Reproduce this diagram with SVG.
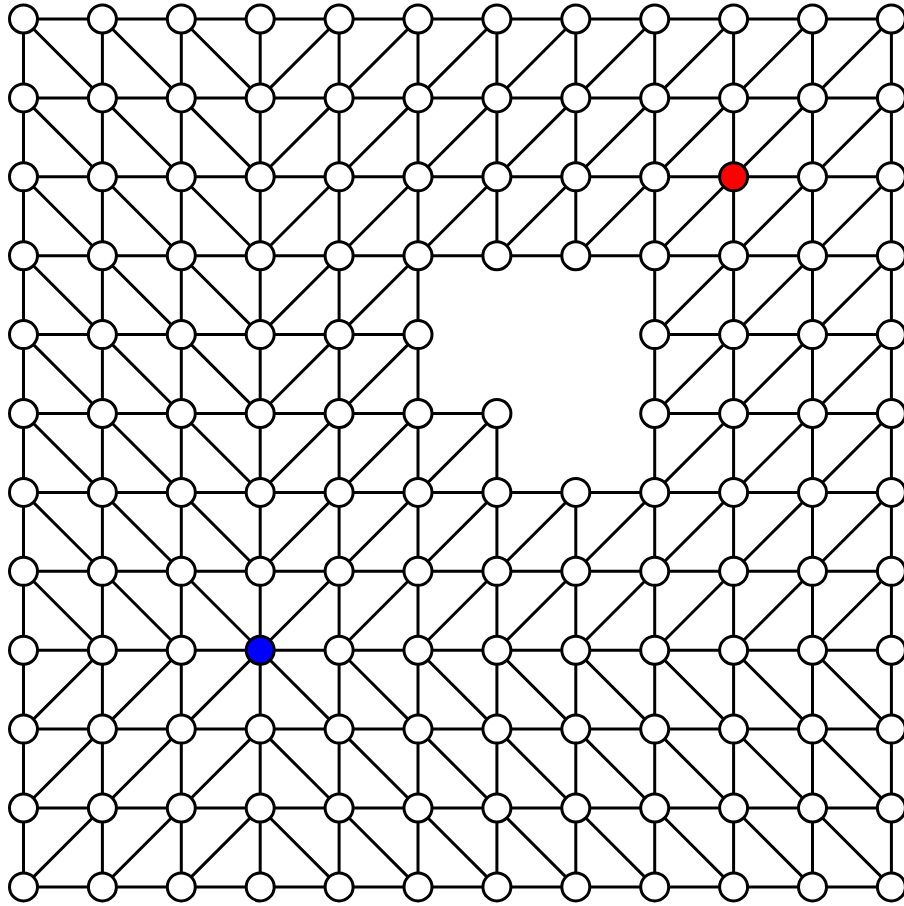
<svg xmlns="http://www.w3.org/2000/svg" width="904" height="906" viewBox="0 0 904 906">
<style>
.e{fill:none;stroke:#000;stroke-width:3;stroke-linecap:butt}
.n{fill:#fff;stroke:#000;stroke-width:3}
.red{fill:#ff0000}
.blue{fill:#0000ff}
</style>
<rect width="904" height="906" fill="#fff"/>
<g id="connectors">
<path class="e" d="M23.5 19H891.4 M23.5 97.9H891.4 M23.5 176.8H891.4 M23.5 255.7H891.4 M23.5 334.6H418 M654.7 334.6H891.4 M23.5 413.5H496.9 M654.7 413.5H891.4 M23.5 492.4H891.4 M23.5 571.3H891.4 M23.5 650.2H891.4 M23.5 729.1H891.4 M23.5 808H891.4 M23.5 886.9H891.4"/>
<path class="e" d="M23.5 19V886.9 M102.4 19V886.9 M181.3 19V886.9 M260.2 19V886.9 M339.1 19V886.9 M418 19V886.9 M496.9 19V255.7 M496.9 413.5V886.9 M575.8 19V255.7 M575.8 492.4V886.9 M654.7 19V886.9 M733.6 19V886.9 M812.5 19V886.9 M891.4 19V886.9"/>
<path class="e" d="
M23.5 19l78.9 78.9 M102.4 19l78.9 78.9 M181.3 19l78.9 78.9
M23.5 97.9l78.9 78.9 M102.4 97.9l78.9 78.9 M181.3 97.9l78.9 78.9
M23.5 176.8l78.9 78.9 M102.4 176.8l78.9 78.9 M181.3 176.8l78.9 78.9
M23.5 255.7l78.9 78.9 M102.4 255.7l78.9 78.9 M181.3 255.7l78.9 78.9
M23.5 334.6l78.9 78.9 M102.4 334.6l78.9 78.9 M181.3 334.6l78.9 78.9
M23.5 413.5l78.9 78.9 M102.4 413.5l78.9 78.9 M181.3 413.5l78.9 78.9
M23.5 492.4l78.9 78.9 M102.4 492.4l78.9 78.9 M181.3 492.4l78.9 78.9
M23.5 571.3l78.9 78.9 M102.4 571.3l78.9 78.9 M181.3 571.3l78.9 78.9"/>
<path class="e" d="
M339.1 19l-78.9 78.9 M418 19l-78.9 78.9 M496.9 19l-78.9 78.9 M575.8 19l-78.9 78.9 M654.7 19l-78.9 78.9 M733.6 19l-78.9 78.9 M812.5 19l-78.9 78.9 M891.4 19l-78.9 78.9
M339.1 97.9l-78.9 78.9 M418 97.9l-78.9 78.9 M496.9 97.9l-78.9 78.9 M575.8 97.9l-78.9 78.9 M654.7 97.9l-78.9 78.9 M733.6 97.9l-78.9 78.9 M812.5 97.9l-78.9 78.9 M891.4 97.9l-78.9 78.9
M339.1 176.8l-78.9 78.9 M418 176.8l-78.9 78.9 M496.9 176.8l-78.9 78.9 M575.8 176.8l-78.9 78.9 M654.7 176.8l-78.9 78.9 M733.6 176.8l-78.9 78.9 M812.5 176.8l-78.9 78.9 M891.4 176.8l-78.9 78.9
M339.1 255.7l-78.9 78.9 M418 255.7l-78.9 78.9 M733.6 255.7l-78.9 78.9 M812.5 255.7l-78.9 78.9 M891.4 255.7l-78.9 78.9
M339.1 334.6l-78.9 78.9 M418 334.6l-78.9 78.9 M733.6 334.6l-78.9 78.9 M812.5 334.6l-78.9 78.9 M891.4 334.6l-78.9 78.9
M339.1 413.5l-78.9 78.9 M418 413.5l-78.9 78.9 M496.9 413.5l-78.9 78.9 M733.6 413.5l-78.9 78.9 M812.5 413.5l-78.9 78.9 M891.4 413.5l-78.9 78.9
M339.1 492.4l-78.9 78.9 M418 492.4l-78.9 78.9 M496.9 492.4l-78.9 78.9 M575.8 492.4l-78.9 78.9 M654.7 492.4l-78.9 78.9 M733.6 492.4l-78.9 78.9 M812.5 492.4l-78.9 78.9 M891.4 492.4l-78.9 78.9
M339.1 571.3l-78.9 78.9 M418 571.3l-78.9 78.9 M496.9 571.3l-78.9 78.9 M575.8 571.3l-78.9 78.9 M654.7 571.3l-78.9 78.9 M733.6 571.3l-78.9 78.9 M812.5 571.3l-78.9 78.9 M891.4 571.3l-78.9 78.9"/>
<path class="e" d="
M102.4 650.2l-78.9 78.9 M181.3 650.2l-78.9 78.9 M260.2 650.2l-78.9 78.9
M102.4 729.1l-78.9 78.9 M181.3 729.1l-78.9 78.9 M260.2 729.1l-78.9 78.9
M102.4 808l-78.9 78.9 M181.3 808l-78.9 78.9 M260.2 808l-78.9 78.9"/>
<path class="e" d="
M260.2 650.2l78.9 78.9 M339.1 650.2l78.9 78.9 M418 650.2l78.9 78.9 M496.9 650.2l78.9 78.9 M575.8 650.2l78.9 78.9 M654.7 650.2l78.9 78.9 M733.6 650.2l78.9 78.9 M812.5 650.2l78.9 78.9
M260.2 729.1l78.9 78.9 M339.1 729.1l78.9 78.9 M418 729.1l78.9 78.9 M496.9 729.1l78.9 78.9 M575.8 729.1l78.9 78.9 M654.7 729.1l78.9 78.9 M733.6 729.1l78.9 78.9 M812.5 729.1l78.9 78.9
M260.2 808l78.9 78.9 M339.1 808l78.9 78.9 M418 808l78.9 78.9 M496.9 808l78.9 78.9 M575.8 808l78.9 78.9 M654.7 808l78.9 78.9 M733.6 808l78.9 78.9 M812.5 808l78.9 78.9"/>
</g>
<g id="nodes">
<g id="n0_0"><circle class="n" cx="23.5" cy="19" r="14"/></g>
<g id="n1_0"><circle class="n" cx="102.4" cy="19" r="14"/></g>
<g id="n2_0"><circle class="n" cx="181.3" cy="19" r="14"/></g>
<g id="n3_0"><circle class="n" cx="260.2" cy="19" r="14"/></g>
<g id="n4_0"><circle class="n" cx="339.1" cy="19" r="14"/></g>
<g id="n5_0"><circle class="n" cx="418" cy="19" r="14"/></g>
<g id="n6_0"><circle class="n" cx="496.9" cy="19" r="14"/></g>
<g id="n7_0"><circle class="n" cx="575.8" cy="19" r="14"/></g>
<g id="n8_0"><circle class="n" cx="654.7" cy="19" r="14"/></g>
<g id="n9_0"><circle class="n" cx="733.6" cy="19" r="14"/></g>
<g id="n10_0"><circle class="n" cx="812.5" cy="19" r="14"/></g>
<g id="n11_0"><circle class="n" cx="891.4" cy="19" r="14"/></g>
<g id="n0_1"><circle class="n" cx="23.5" cy="97.9" r="14"/></g>
<g id="n1_1"><circle class="n" cx="102.4" cy="97.9" r="14"/></g>
<g id="n2_1"><circle class="n" cx="181.3" cy="97.9" r="14"/></g>
<g id="n3_1"><circle class="n" cx="260.2" cy="97.9" r="14"/></g>
<g id="n4_1"><circle class="n" cx="339.1" cy="97.9" r="14"/></g>
<g id="n5_1"><circle class="n" cx="418" cy="97.9" r="14"/></g>
<g id="n6_1"><circle class="n" cx="496.9" cy="97.9" r="14"/></g>
<g id="n7_1"><circle class="n" cx="575.8" cy="97.9" r="14"/></g>
<g id="n8_1"><circle class="n" cx="654.7" cy="97.9" r="14"/></g>
<g id="n9_1"><circle class="n" cx="733.6" cy="97.9" r="14"/></g>
<g id="n10_1"><circle class="n" cx="812.5" cy="97.9" r="14"/></g>
<g id="n11_1"><circle class="n" cx="891.4" cy="97.9" r="14"/></g>
<g id="n0_2"><circle class="n" cx="23.5" cy="176.8" r="14"/></g>
<g id="n1_2"><circle class="n" cx="102.4" cy="176.8" r="14"/></g>
<g id="n2_2"><circle class="n" cx="181.3" cy="176.8" r="14"/></g>
<g id="n3_2"><circle class="n" cx="260.2" cy="176.8" r="14"/></g>
<g id="n4_2"><circle class="n" cx="339.1" cy="176.8" r="14"/></g>
<g id="n5_2"><circle class="n" cx="418" cy="176.8" r="14"/></g>
<g id="n6_2"><circle class="n" cx="496.9" cy="176.8" r="14"/></g>
<g id="n7_2"><circle class="n" cx="575.8" cy="176.8" r="14"/></g>
<g id="n8_2"><circle class="n" cx="654.7" cy="176.8" r="14"/></g>
<g id="n9_2"><circle class="n red" cx="733.6" cy="176.8" r="14"/></g>
<g id="n10_2"><circle class="n" cx="812.5" cy="176.8" r="14"/></g>
<g id="n11_2"><circle class="n" cx="891.4" cy="176.8" r="14"/></g>
<g id="n0_3"><circle class="n" cx="23.5" cy="255.7" r="14"/></g>
<g id="n1_3"><circle class="n" cx="102.4" cy="255.7" r="14"/></g>
<g id="n2_3"><circle class="n" cx="181.3" cy="255.7" r="14"/></g>
<g id="n3_3"><circle class="n" cx="260.2" cy="255.7" r="14"/></g>
<g id="n4_3"><circle class="n" cx="339.1" cy="255.7" r="14"/></g>
<g id="n5_3"><circle class="n" cx="418" cy="255.7" r="14"/></g>
<g id="n6_3"><circle class="n" cx="496.9" cy="255.7" r="14"/></g>
<g id="n7_3"><circle class="n" cx="575.8" cy="255.7" r="14"/></g>
<g id="n8_3"><circle class="n" cx="654.7" cy="255.7" r="14"/></g>
<g id="n9_3"><circle class="n" cx="733.6" cy="255.7" r="14"/></g>
<g id="n10_3"><circle class="n" cx="812.5" cy="255.7" r="14"/></g>
<g id="n11_3"><circle class="n" cx="891.4" cy="255.7" r="14"/></g>
<g id="n0_4"><circle class="n" cx="23.5" cy="334.6" r="14"/></g>
<g id="n1_4"><circle class="n" cx="102.4" cy="334.6" r="14"/></g>
<g id="n2_4"><circle class="n" cx="181.3" cy="334.6" r="14"/></g>
<g id="n3_4"><circle class="n" cx="260.2" cy="334.6" r="14"/></g>
<g id="n4_4"><circle class="n" cx="339.1" cy="334.6" r="14"/></g>
<g id="n5_4"><circle class="n" cx="418" cy="334.6" r="14"/></g>
<g id="n8_4"><circle class="n" cx="654.7" cy="334.6" r="14"/></g>
<g id="n9_4"><circle class="n" cx="733.6" cy="334.6" r="14"/></g>
<g id="n10_4"><circle class="n" cx="812.5" cy="334.6" r="14"/></g>
<g id="n11_4"><circle class="n" cx="891.4" cy="334.6" r="14"/></g>
<g id="n0_5"><circle class="n" cx="23.5" cy="413.5" r="14"/></g>
<g id="n1_5"><circle class="n" cx="102.4" cy="413.5" r="14"/></g>
<g id="n2_5"><circle class="n" cx="181.3" cy="413.5" r="14"/></g>
<g id="n3_5"><circle class="n" cx="260.2" cy="413.5" r="14"/></g>
<g id="n4_5"><circle class="n" cx="339.1" cy="413.5" r="14"/></g>
<g id="n5_5"><circle class="n" cx="418" cy="413.5" r="14"/></g>
<g id="n6_5"><circle class="n" cx="496.9" cy="413.5" r="14"/></g>
<g id="n8_5"><circle class="n" cx="654.7" cy="413.5" r="14"/></g>
<g id="n9_5"><circle class="n" cx="733.6" cy="413.5" r="14"/></g>
<g id="n10_5"><circle class="n" cx="812.5" cy="413.5" r="14"/></g>
<g id="n11_5"><circle class="n" cx="891.4" cy="413.5" r="14"/></g>
<g id="n0_6"><circle class="n" cx="23.5" cy="492.4" r="14"/></g>
<g id="n1_6"><circle class="n" cx="102.4" cy="492.4" r="14"/></g>
<g id="n2_6"><circle class="n" cx="181.3" cy="492.4" r="14"/></g>
<g id="n3_6"><circle class="n" cx="260.2" cy="492.4" r="14"/></g>
<g id="n4_6"><circle class="n" cx="339.1" cy="492.4" r="14"/></g>
<g id="n5_6"><circle class="n" cx="418" cy="492.4" r="14"/></g>
<g id="n6_6"><circle class="n" cx="496.9" cy="492.4" r="14"/></g>
<g id="n7_6"><circle class="n" cx="575.8" cy="492.4" r="14"/></g>
<g id="n8_6"><circle class="n" cx="654.7" cy="492.4" r="14"/></g>
<g id="n9_6"><circle class="n" cx="733.6" cy="492.4" r="14"/></g>
<g id="n10_6"><circle class="n" cx="812.5" cy="492.4" r="14"/></g>
<g id="n11_6"><circle class="n" cx="891.4" cy="492.4" r="14"/></g>
<g id="n0_7"><circle class="n" cx="23.5" cy="571.3" r="14"/></g>
<g id="n1_7"><circle class="n" cx="102.4" cy="571.3" r="14"/></g>
<g id="n2_7"><circle class="n" cx="181.3" cy="571.3" r="14"/></g>
<g id="n3_7"><circle class="n" cx="260.2" cy="571.3" r="14"/></g>
<g id="n4_7"><circle class="n" cx="339.1" cy="571.3" r="14"/></g>
<g id="n5_7"><circle class="n" cx="418" cy="571.3" r="14"/></g>
<g id="n6_7"><circle class="n" cx="496.9" cy="571.3" r="14"/></g>
<g id="n7_7"><circle class="n" cx="575.8" cy="571.3" r="14"/></g>
<g id="n8_7"><circle class="n" cx="654.7" cy="571.3" r="14"/></g>
<g id="n9_7"><circle class="n" cx="733.6" cy="571.3" r="14"/></g>
<g id="n10_7"><circle class="n" cx="812.5" cy="571.3" r="14"/></g>
<g id="n11_7"><circle class="n" cx="891.4" cy="571.3" r="14"/></g>
<g id="n0_8"><circle class="n" cx="23.5" cy="650.2" r="14"/></g>
<g id="n1_8"><circle class="n" cx="102.4" cy="650.2" r="14"/></g>
<g id="n2_8"><circle class="n" cx="181.3" cy="650.2" r="14"/></g>
<g id="n3_8"><circle class="n blue" cx="260.2" cy="650.2" r="14"/></g>
<g id="n4_8"><circle class="n" cx="339.1" cy="650.2" r="14"/></g>
<g id="n5_8"><circle class="n" cx="418" cy="650.2" r="14"/></g>
<g id="n6_8"><circle class="n" cx="496.9" cy="650.2" r="14"/></g>
<g id="n7_8"><circle class="n" cx="575.8" cy="650.2" r="14"/></g>
<g id="n8_8"><circle class="n" cx="654.7" cy="650.2" r="14"/></g>
<g id="n9_8"><circle class="n" cx="733.6" cy="650.2" r="14"/></g>
<g id="n10_8"><circle class="n" cx="812.5" cy="650.2" r="14"/></g>
<g id="n11_8"><circle class="n" cx="891.4" cy="650.2" r="14"/></g>
<g id="n0_9"><circle class="n" cx="23.5" cy="729.1" r="14"/></g>
<g id="n1_9"><circle class="n" cx="102.4" cy="729.1" r="14"/></g>
<g id="n2_9"><circle class="n" cx="181.3" cy="729.1" r="14"/></g>
<g id="n3_9"><circle class="n" cx="260.2" cy="729.1" r="14"/></g>
<g id="n4_9"><circle class="n" cx="339.1" cy="729.1" r="14"/></g>
<g id="n5_9"><circle class="n" cx="418" cy="729.1" r="14"/></g>
<g id="n6_9"><circle class="n" cx="496.9" cy="729.1" r="14"/></g>
<g id="n7_9"><circle class="n" cx="575.8" cy="729.1" r="14"/></g>
<g id="n8_9"><circle class="n" cx="654.7" cy="729.1" r="14"/></g>
<g id="n9_9"><circle class="n" cx="733.6" cy="729.1" r="14"/></g>
<g id="n10_9"><circle class="n" cx="812.5" cy="729.1" r="14"/></g>
<g id="n11_9"><circle class="n" cx="891.4" cy="729.1" r="14"/></g>
<g id="n0_10"><circle class="n" cx="23.5" cy="808" r="14"/></g>
<g id="n1_10"><circle class="n" cx="102.4" cy="808" r="14"/></g>
<g id="n2_10"><circle class="n" cx="181.3" cy="808" r="14"/></g>
<g id="n3_10"><circle class="n" cx="260.2" cy="808" r="14"/></g>
<g id="n4_10"><circle class="n" cx="339.1" cy="808" r="14"/></g>
<g id="n5_10"><circle class="n" cx="418" cy="808" r="14"/></g>
<g id="n6_10"><circle class="n" cx="496.9" cy="808" r="14"/></g>
<g id="n7_10"><circle class="n" cx="575.8" cy="808" r="14"/></g>
<g id="n8_10"><circle class="n" cx="654.7" cy="808" r="14"/></g>
<g id="n9_10"><circle class="n" cx="733.6" cy="808" r="14"/></g>
<g id="n10_10"><circle class="n" cx="812.5" cy="808" r="14"/></g>
<g id="n11_10"><circle class="n" cx="891.4" cy="808" r="14"/></g>
<g id="n0_11"><circle class="n" cx="23.5" cy="886.9" r="14"/></g>
<g id="n1_11"><circle class="n" cx="102.4" cy="886.9" r="14"/></g>
<g id="n2_11"><circle class="n" cx="181.3" cy="886.9" r="14"/></g>
<g id="n3_11"><circle class="n" cx="260.2" cy="886.9" r="14"/></g>
<g id="n4_11"><circle class="n" cx="339.1" cy="886.9" r="14"/></g>
<g id="n5_11"><circle class="n" cx="418" cy="886.9" r="14"/></g>
<g id="n6_11"><circle class="n" cx="496.9" cy="886.9" r="14"/></g>
<g id="n7_11"><circle class="n" cx="575.8" cy="886.9" r="14"/></g>
<g id="n8_11"><circle class="n" cx="654.7" cy="886.9" r="14"/></g>
<g id="n9_11"><circle class="n" cx="733.6" cy="886.9" r="14"/></g>
<g id="n10_11"><circle class="n" cx="812.5" cy="886.9" r="14"/></g>
<g id="n11_11"><circle class="n" cx="891.4" cy="886.9" r="14"/></g>
</g>
</svg>
